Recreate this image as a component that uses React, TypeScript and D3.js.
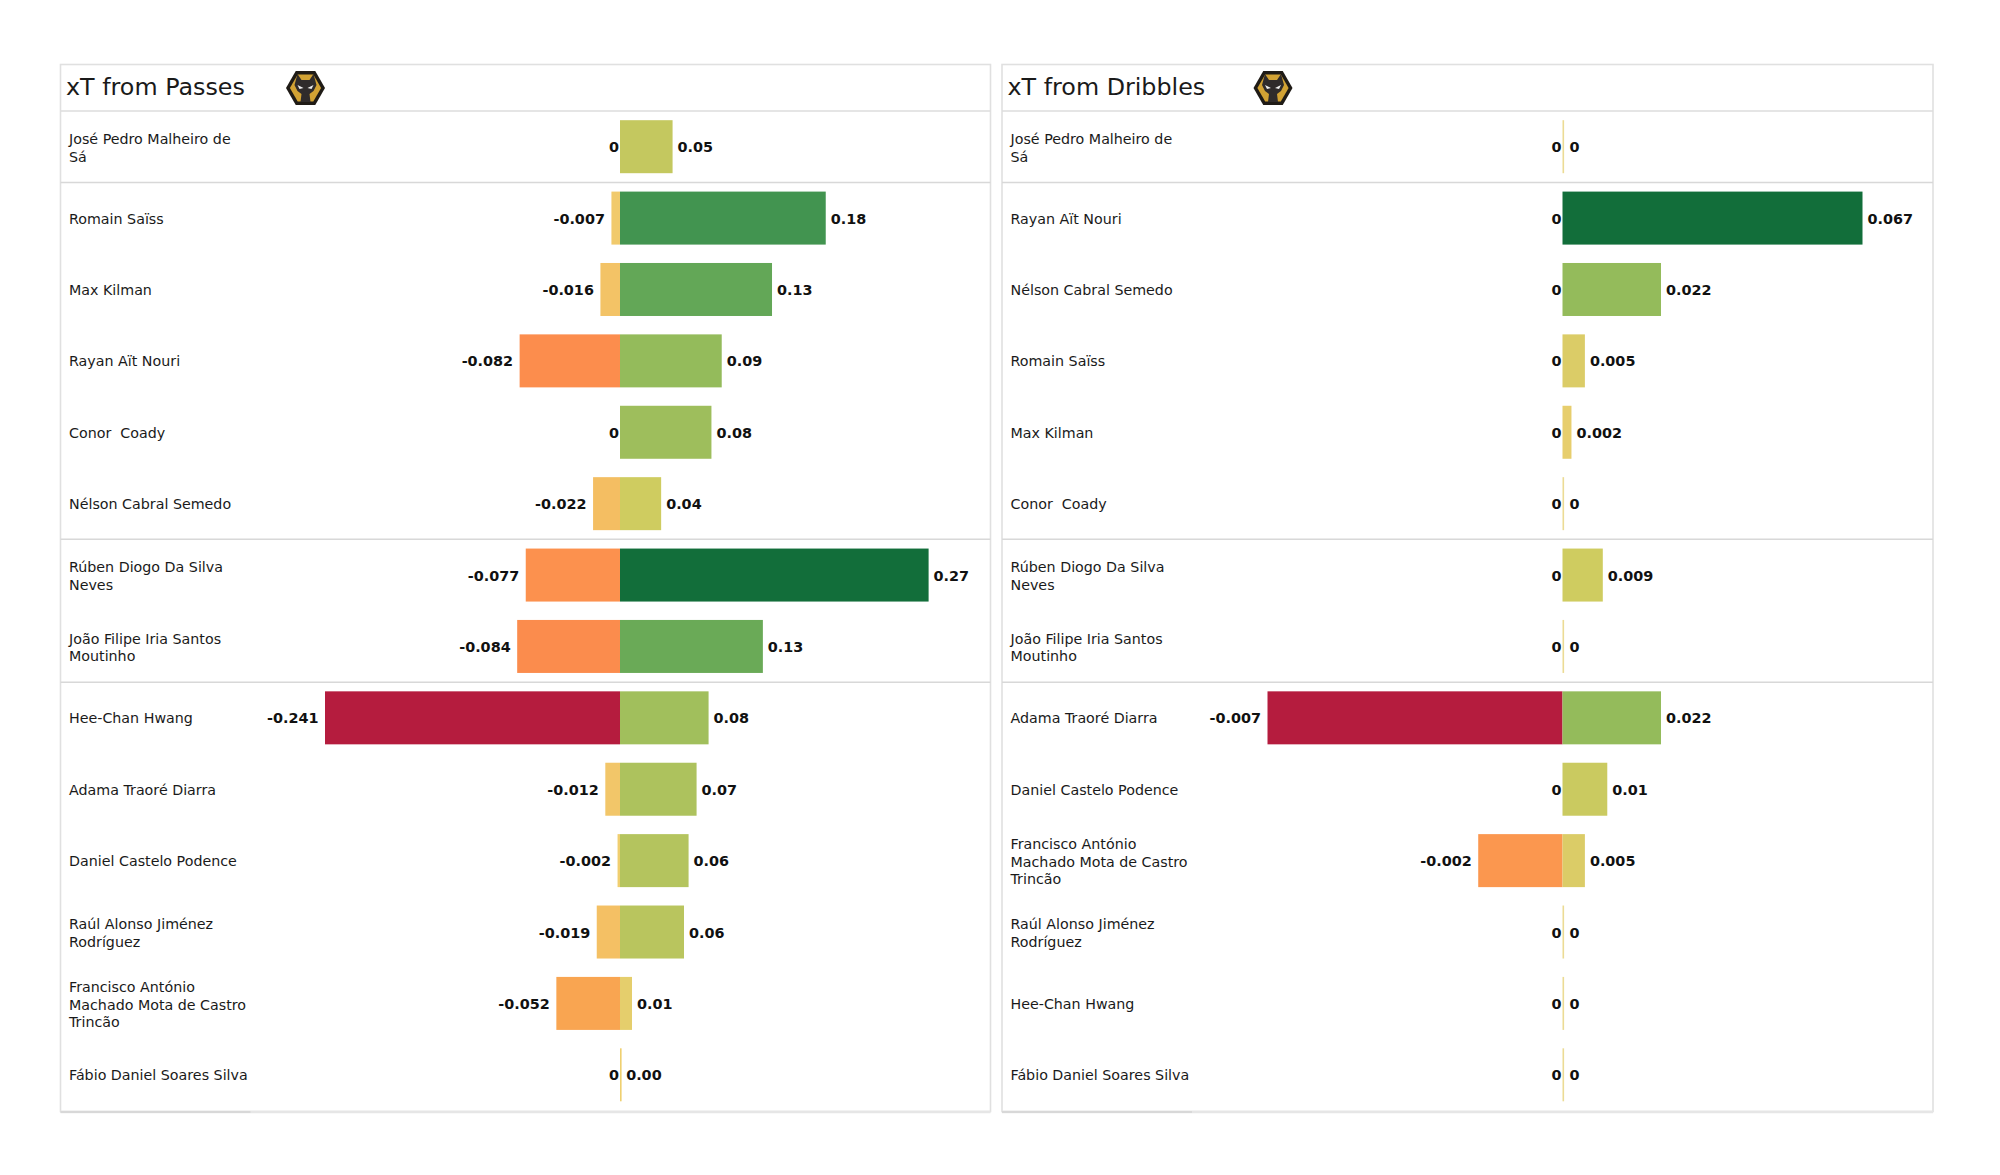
import React from "react";
import * as d3 from "d3";

const passNames = ["José Pedro Malheiro de|Sá","Romain Saïss","Max Kilman","Rayan Aït Nouri","Conor  Coady","Nélson Cabral Semedo","Rúben Diogo Da Silva|Neves","João Filipe Iria Santos|Moutinho","Hee-Chan Hwang","Adama Traoré Diarra","Daniel Castelo Podence","Raúl Alonso Jiménez|Rodríguez","Francisco António|Machado Mota de Castro|Trincão","Fábio Daniel Soares Silva"];
const passNeg = [0,-0.007,-0.016,-0.082,0,-0.022,-0.077,-0.084,-0.241,-0.012,-0.002,-0.019,-0.052,0];
const passPos = [0.046,0.18,0.133,0.089,0.08,0.036,0.27,0.125,0.0775,0.067,0.06,0.056,0.0105,0.001];
const dribNames = ["José Pedro Malheiro de|Sá","Rayan Aït Nouri","Nélson Cabral Semedo","Romain Saïss","Max Kilman","Conor  Coady","Rúben Diogo Da Silva|Neves","João Filipe Iria Santos|Moutinho","Adama Traoré Diarra","Daniel Castelo Podence","Francisco António|Machado Mota de Castro|Trincão","Raúl Alonso Jiménez|Rodríguez","Hee-Chan Hwang","Fábio Daniel Soares Silva"];
const dribNeg = [0,0,0,0,0,0,0,0,-0.007,0,-0.002,0,0,0];
const dribPos = [0,0.067,0.022,0.005,0.002,0,0.009,0,0.022,0.01,0.005,0,0,0];
const groupBreaks = [1,6,8];
const colorStops = [-1,-0.34,-0.2,0,0.07,0.13,0.22,0.33,0.48,0.67,1];
const colorValues = ["#b51c3e","#fc8d4d","#f9a852","#f0d070","#dccc68","#d0cc60","#b5c45e","#94bb5b","#65a857","#419450","#126e3a"];

const FONT = "'DejaVu Sans', sans-serif";
const color = d3.scaleLinear<string>().domain(colorStops).range(colorValues).interpolate(d3.interpolateRgb);
const rowY = d3.scaleBand<number>().domain(d3.range(14)).range([111.5, 1111]).paddingInner(0).paddingOuter(0);

function Logo({ x, y }: { x: number; y: number }) {
  const r = 19.5;
  const hex = d3.range(6).map(i => { const a = Math.PI / 3 * i; return [r * Math.cos(a), r * Math.sin(a)]; });
  const inner = hex.map(([a, b]) => `${a * 0.8},${b * 0.8}`).join(" ");
  return (
    <g transform={`translate(${x},${y})`}>
      <polygon points={hex.map(p => p.join(",")).join(" ")} fill="#1f1b16" />
      <polygon points={inner} fill="#d2a233" />
      <path d="M-8,-14 L-4,-8 L4,-8 L8,-14 L11,-3 L8,3 L4,6 L5,14 L-5,14 L-4,6 L-8,3 L-11,-3 Z" fill="#2f2b2b" />
      <path d="M-8,-3 L-2,0 L-6,1 Z M8,-3 L2,0 L6,1 Z" fill="#f0f0f0" />
    </g>
  );
}

function Panel({ x0, width, title, names, neg, pos, zeroX, negMax, posMax, logoX }: any) {
  const isPass = title.includes("Passes");
  const xNeg = d3.scaleLinear().domain([-negMax, 0]).range([zeroX - 295, zeroX]);
  const xPos = d3.scaleLinear().domain([0, posMax]).range([zeroX, zeroX + (isPass ? 308.6 : 300)]);
  const barH = 53;
  return (
    <g>
      <rect x={x0} y={64.5} width={width} height={1047} fill="none" stroke="#e0e0e0" strokeWidth={1.6} />
      <line x1={x0} x2={x0 + width} y1={111} y2={111} stroke="#dcdcdc" strokeWidth={1.5} />
      <line x1={x0} x2={x0 + width} y1={1112} y2={1112} stroke="#e6e6e6" strokeWidth={2.5} />
      <line x1={x0} x2={x0 + 190} y1={1112} y2={1112} stroke="#d8d8d8" strokeWidth={2} />
      <text x={x0 + 5.5} y={95} fontSize={23.8} fill="#1a1a1a">{title}</text>
      <Logo x={logoX} y={88} />
      {groupBreaks.map(b => (
        <line key={b} x1={x0} x2={x0 + width} y1={rowY(b)! - 0.5} y2={rowY(b)! - 0.5} stroke="#d8d8d8" strokeWidth={1.5} />
      ))}
      {names.map((name: string, i: number) => {
        const cy = rowY(i)! + rowY.bandwidth() / 2;
        const lines = name.split("|");
        const n = neg[i], p = pos[i];
        return (
          <g key={i}>
            {lines.map((l, j) => (
              <text key={j} x={x0 + 8.5} y={cy + 5 + (lines.length > 1 ? 0.6 : 0) + (j - (lines.length - 1) / 2) * 17.5} fontSize={14.25} fill="#1a1a1a" style={{ whiteSpace: "pre" }}>{l}</text>
            ))}
            {n !== 0 && <rect x={xNeg(n)} y={cy - barH / 2 - 0.5} width={zeroX - xNeg(n)} height={barH} fill={color(n / negMax)} />}
            <rect x={zeroX} y={cy - barH / 2 - 0.5} width={Math.max(xPos(p) - zeroX, 1.6)} height={barH} fill={p === 0 ? "#ecdb94" : color(p / posMax)} />
            <text x={n === 0 ? zeroX - 1 : xNeg(n) - 6.5} y={cy + 5} textAnchor="end" fontSize={14.4} fontWeight="bold" fill="#111">{String(n)}</text>
            <text x={xPos(p) + (p === 0 ? 7 : 5)} y={cy + 5} fontSize={14.4} fontWeight="bold" fill="#111">{isPass ? d3.format(".2f")(p) : String(p)}</text>
          </g>
        );
      })}
    </g>
  );
}

export default function App() {
  return (
    <svg width={2000} height={1175} style={{ position: "absolute", left: 0, top: 0, background: "#fff" }} fontFamily={FONT}>
      <Panel x0={60.5} width={930} title="xT from Passes" names={passNames} neg={passNeg} pos={passPos} zeroX={620} negMax={0.241} posMax={0.27} logoX={305.5} />
      <Panel x0={1002} width={931} title="xT from Dribbles" names={dribNames} neg={dribNeg} pos={dribPos} zeroX={1562.5} negMax={0.007} posMax={0.067} logoX={1273} />
    </svg>
  );
}
